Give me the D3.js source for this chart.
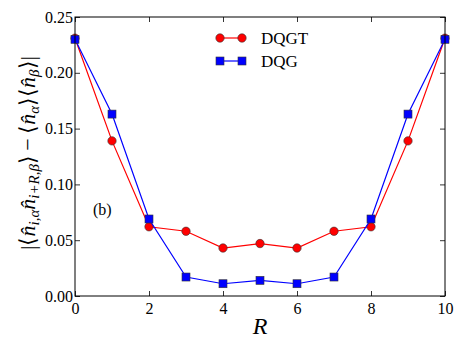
<!DOCTYPE html>
<html>
<head>
<meta charset="utf-8">
<script src="https://cdn.jsdelivr.net/npm/d3@7"></script>
</head>
<body style="margin:0">
<svg id="chart" width="463" height="348" font-family="Liberation Serif"></svg>
<script>
// Data.
const rValues = [0, 1, 2, 3, 4, 5, 6, 7, 8, 9, 10];
const dqgt = [0.231, 0.139, 0.062, 0.058, 0.043, 0.047, 0.043, 0.058, 0.062, 0.139, 0.231];
const dqg = [0.230, 0.163, 0.069, 0.017, 0.011, 0.014, 0.011, 0.017, 0.069, 0.163, 0.230];
const xTicks = [0, 2, 4, 6, 8, 10];
const yTicks = [0, 0.05, 0.10, 0.15, 0.20, 0.25];

const series = [
  { name: 'DQGT', values: dqgt, color: '#ff0000', shape: 'circle' },
  { name: 'DQG', values: dqg, color: '#0000ff', shape: 'square' },
];

const serif = 'Liberation Serif';

// Margin convention.
const W = 463, H = 348;
const margin = { top: 17, right: 18, bottom: 52, left: 75 };
const width = W - margin.left - margin.right;
const height = H - margin.top - margin.bottom;

const svg = d3.select('#chart');

// Scales.
const x = d3.scaleLinear().domain([0, 10]).range([0, width]);
const y = d3.scaleLinear().domain([0, 0.25]).range([height, 0]);

// Axes (inward ticks on all sides).
const fmt = d3.format('.2f');
const axisStyle = sel => {
  sel.attr('font-family', serif).attr('font-size', 16);
  sel.select('.domain').remove();
  sel.selectAll('line').attr('stroke', '#000').attr('stroke-width', 0.8);
  sel.selectAll('text')
    .attr('font-family', serif)
    .attr('font-size', 16)
    .attr('fill', '#000');
};

const axes = svg.append('g')
  .attr('transform', `translate(${margin.left},${margin.top})`);

axes.append('g').attr('transform', `translate(0,${height})`)
  .call(d3.axisBottom(x).tickValues(xTicks).tickSizeInner(-5).tickSizeOuter(0).tickPadding(7))
  .call(axisStyle);
axes.append('g')
  .call(d3.axisTop(x).tickValues(xTicks).tickSizeInner(-5).tickSizeOuter(0).tickFormat(''))
  .call(axisStyle);
axes.append('g')
  .call(d3.axisLeft(y).tickValues(yTicks).tickFormat(fmt).tickSizeInner(-5).tickSizeOuter(0).tickPadding(2))
  .call(axisStyle);
axes.append('g').attr('transform', `translate(${width},0)`)
  .call(d3.axisRight(y).tickValues(yTicks).tickSizeInner(-5).tickSizeOuter(0).tickFormat(''))
  .call(axisStyle);

// Lines and markers.
const g = svg.append('g')
  .attr('transform', `translate(${margin.left},${margin.top})`);

const line = d3.line().x((d, i) => x(rValues[i])).y(d => y(d));

function drawMarker(sel, s, cx, cy) {
  if (s.shape === 'circle') {
    sel.append('circle').attr('cx', cx).attr('cy', cy).attr('r', 4.2)
      .attr('fill', s.color).attr('stroke', '#333').attr('stroke-width', 0.6);
  } else {
    sel.append('rect').attr('x', cx - 4).attr('y', cy - 4).attr('width', 8).attr('height', 8)
      .attr('fill', s.color).attr('stroke', '#333').attr('stroke-width', 0.6);
  }
}

series.forEach(s => {
  g.append('path').datum(s.values)
    .attr('d', line).attr('fill', 'none')
    .attr('stroke', s.color).attr('stroke-width', 1.2);
  const m = g.append('g');
  s.values.forEach((v, i) => drawMarker(m, s, x(rValues[i]), y(v)));
});

// Frame.
g.append('rect').attr('width', width).attr('height', height)
  .attr('fill', 'none').attr('stroke', '#000').attr('stroke-width', 1);

// Legend.
series.forEach((s, i) => {
  const ly = 38 + i * 23;
  svg.append('line').attr('x1', 220).attr('x2', 242).attr('y1', ly).attr('y2', ly)
    .attr('stroke', s.color).attr('stroke-width', 1.2);
  drawMarker(svg, s, 220, ly);
  drawMarker(svg, s, 242, ly);
  svg.append('text').attr('x', 261).attr('y', ly + 5.5)
    .attr('font-family', serif).attr('font-size', 17).text(s.name);
});

// Panel label.
svg.append('text').attr('x', 93).attr('y', 215)
  .attr('font-family', serif).attr('font-size', 16).text('(b)');

// X label.
svg.append('text').attr('x', margin.left + width / 2).attr('y', 334)
  .attr('text-anchor', 'middle').attr('font-family', serif).attr('font-size', 24)
  .attr('font-style', 'italic').text('R');

// Y label.
const yl = svg.append('text')
  .attr('transform', 'translate(35,153) rotate(-90)')
  .attr('text-anchor', 'middle').attr('font-family', serif).attr('font-size', 22);
const parts = [
  ['|\u27E8', 'normal', null],
  ['n\u0302', 'italic', null],
  ['i,\u03B1', 'italic', 'sub'],
  ['n\u0302', 'italic', null],
  ['i+R,\u03B2', 'italic', 'sub'],
  ['\u27E9\u2009\u2212\u2009\u27E8', 'normal', null],
  ['n\u0302', 'italic', null],
  ['\u03B1', 'italic', 'sub'],
  ['\u27E9\u27E8', 'normal', null],
  ['n\u0302', 'italic', null],
  ['\u03B2', 'italic', 'sub'],
  ['\u27E9|', 'normal', null],
];
parts.forEach(([t, style, pos]) => {
  const ts = yl.append('tspan').attr('font-family', serif).attr('font-style', style).text(t);
  if (pos === 'sub') ts.attr('baseline-shift', '-25%').attr('font-size', 15);
});
</script>
</body>
</html>
